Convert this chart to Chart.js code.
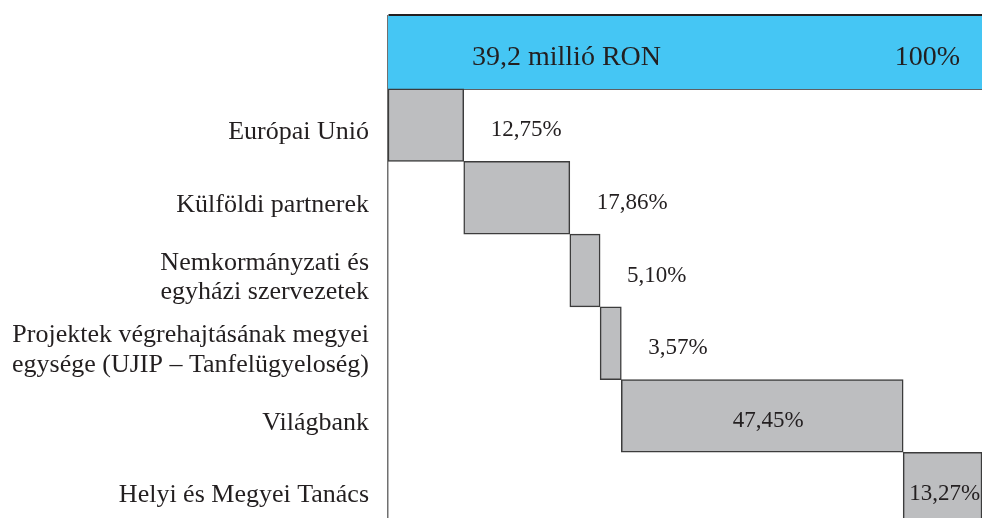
<!DOCTYPE html>
<html lang="hu">
<head>
<meta charset="utf-8">
<title>Finanszírozási források</title>
<script src="https://cdn.jsdelivr.net/npm/chart.js@4.4.1/dist/chart.umd.min.js"></script>
<style>
    html, body { margin: 0; padding: 0; background: #ffffff; overflow: hidden; }
    #wrap { width: 982px; height: 518px; overflow: hidden; }
</style>
</head>
<body>
<!-- a vászon kicsit magasabb: az utolsó sáv alul kilóg, mint az eredetin -->
<div id="wrap"><canvas id="myChart" width="982" height="525"></canvas></div>
<script>
// kategóriák (a legfelső sor az összesen)
let categories = [
    '',
    'Európai Unió',
    'Külföldi partnerek',
    ['Nemkormányzati és', 'egyházi szervezetek'],
    ['Projektek végrehajtásának megyei', 'egysége (UJIP – Tanfelügyeloség)'],
    'Világbank',
    'Helyi és Megyei Tanács'
];
// részesedés %-ban
let shares = [100, 12.75, 17.86, 5.10, 3.57, 47.45, 13.27];
let totalText = '39,2 millió RON';

// lépcsős (waterfall) sávok: [kezdet, vég]
let bars = [];
let acc = 0;
for (let i = 0; i < shares.length; i++) {
    if (i == 0) {
        bars.push([0, shares[0]]);
        continue;
    }
    bars.push([acc, acc + shares[i]]);
    acc += shares[i];
}

let BLUE = '#45c6f4';
let GRAY = '#bdbec0';
let INK = '#231f20';
let SERIF = '"Liberation Serif", "DejaVu Serif", serif';

function pct(v) {
    if (v == 100) return '100%';
    return v.toFixed(2).replace('.', ',') + '%';
}

// értékcímkék kirajzolása
let valueLabels = {
    id: 'valueLabels',
    afterDatasetsDraw(chart) {
        let ctx = chart.ctx;
        let meta = chart.getDatasetMeta(0);
        ctx.save();
        ctx.fillStyle = INK;
        ctx.textBaseline = 'middle';
        meta.data.forEach(function(bar, i) {
            let left = Math.min(bar.x, bar.base);
            let right = Math.max(bar.x, bar.base);
            let y = bar.y + 5;
            if (i == 0) {
                ctx.font = '28px ' + SERIF;
                ctx.textAlign = 'left';
                ctx.fillText(totalText, left + 84, y);
                ctx.textAlign = 'right';
                ctx.fillText(pct(shares[i]), right - 22, y);
                return;
            }
            ctx.font = '23px ' + SERIF;
            if (i == meta.data.length - 1) {   // utolsó sáv: a szélén kilóg, szöveg belül
                ctx.textAlign = 'left';
                ctx.fillText(pct(shares[i]), left + 6, y);
            } else if (right - left > 150) {    // széles sáv: középre
                ctx.textAlign = 'center';
                ctx.fillText(pct(shares[i]), (left + right) / 2 + 6, y);
            } else {
                ctx.textAlign = 'left';
                ctx.fillText(pct(shares[i]), right + 27, y);
            }
        });
        ctx.restore();
    }
};

let ctx = document.getElementById('myChart');
new Chart(ctx, {
    type: 'bar',
    data: {
        labels: categories,
        datasets: [{
            data: bars,
            backgroundColor: shares.map((v, i) => i == 0 ? BLUE : GRAY),
            borderColor: '#3c3c3c',
            borderWidth: shares.map((v, i) => i == 0 ? 0 : 1.5),
            borderSkipped: false,
            barPercentage: 1,
            categoryPercentage: 1
        }]
    },
    plugins: [valueLabels],
    options: {
        indexAxis: 'y',
        responsive: false,
        animation: false,
        layout: {
            padding: { left: 0, right: 0, top: 16, bottom: 0 }
        },
        plugins: {
            legend: { display: false },
            tooltip: { enabled: false }
        },
        scales: {
            x: {
                display: false,
                min: 0,
                max: 100
            },
            y: {
                z: 1,
                afterFit: function(axis) {
                    axis.width = 388;
                    axis.paddingTop = 0;
                    axis.paddingBottom = 0;
                },
                grid: {
                    offset: true,
                    drawTicks: false,
                    color: function(c) {
                        if (c.index == 0) return '#231f20';
                        if (c.index == 1) return '#5f6062';
                        return 'rgba(0,0,0,0)';
                    },
                    lineWidth: function(c) { return c.index == 0 ? 3 : 2; }
                },
                border: {
                    display: true,
                    color: '#707070',
                    width: 1.5
                },
                ticks: {
                    padding: 19,
                    labelOffset: 7,
                    color: INK,
                    font: { family: SERIF, size: 26, lineHeight: 1.13 }
                }
            }
        }
    }
});
</script>
</body>
</html>
